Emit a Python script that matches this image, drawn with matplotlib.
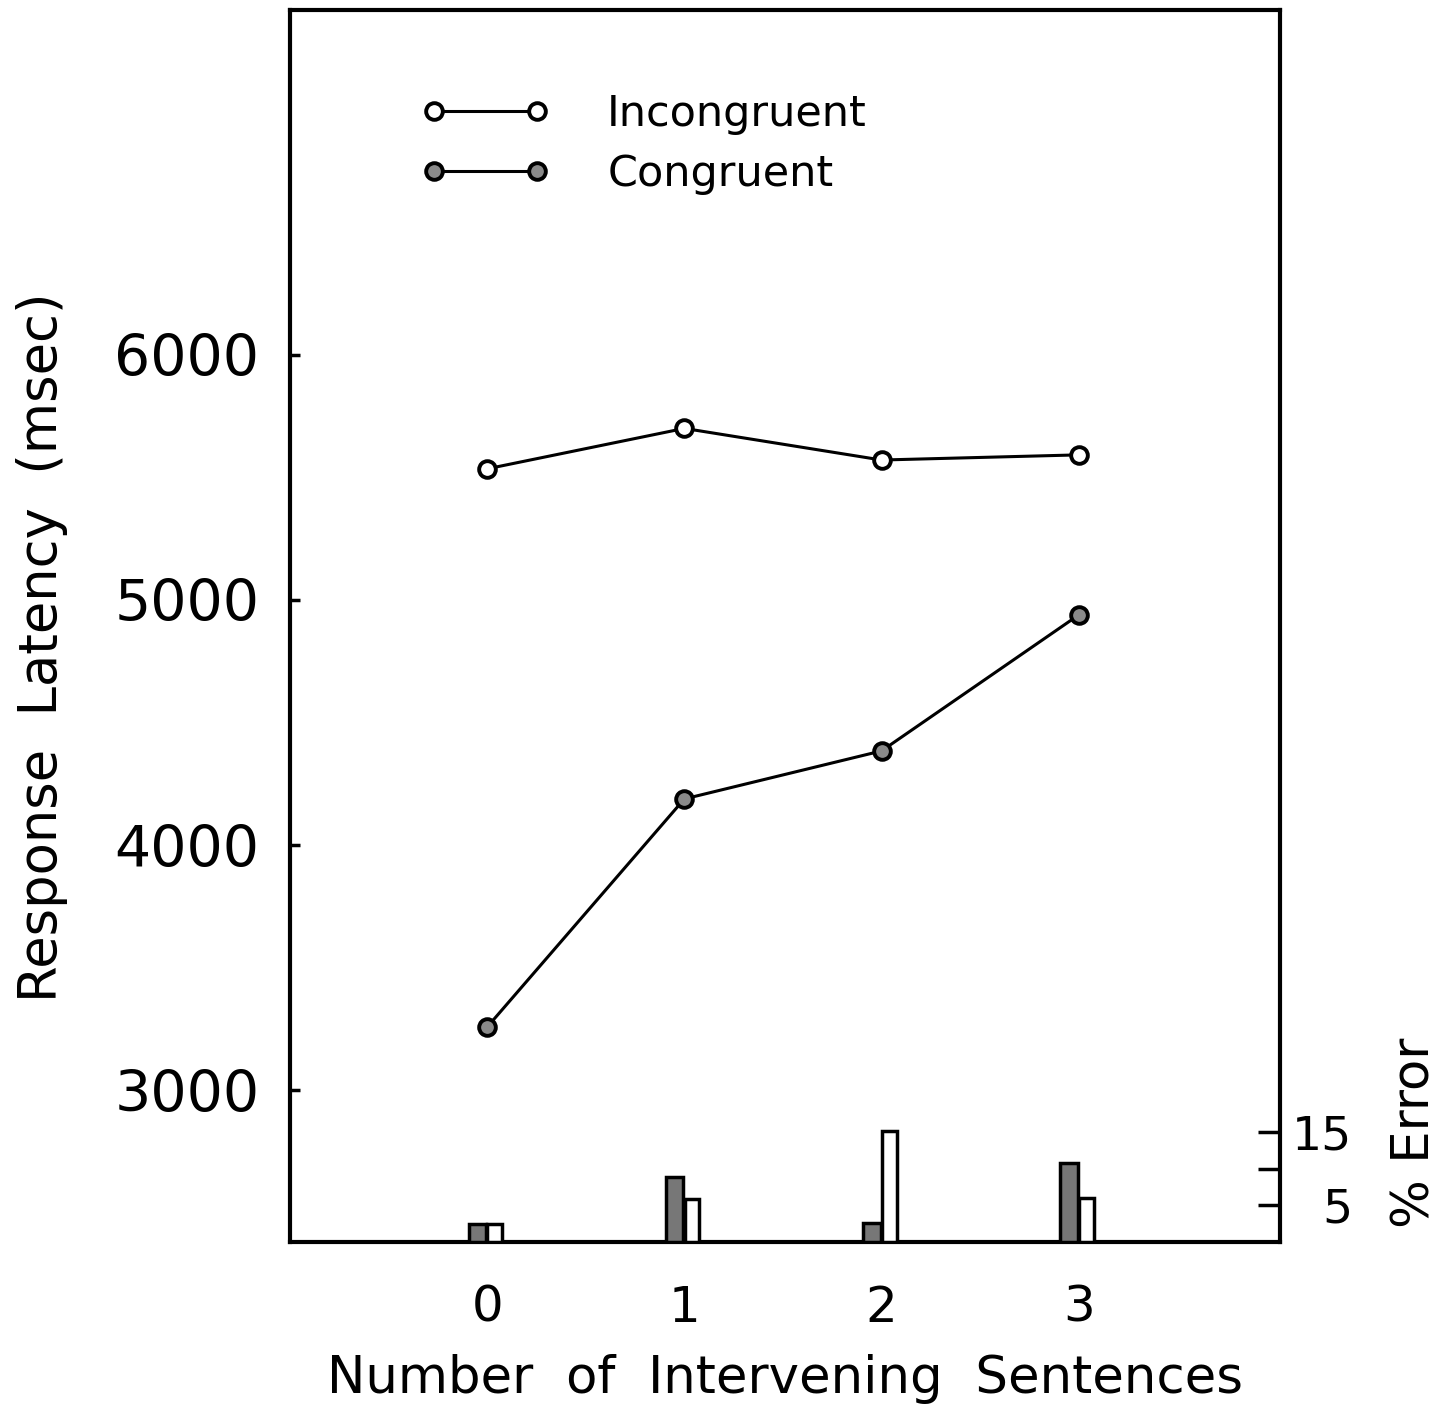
import matplotlib
matplotlib.use("Agg")
import matplotlib.pyplot as plt
import numpy as np

# ---- data ----
sentences = [0, 1, 2, 3]
x_tick_labels = ["0", "1", "2", "3"]
incongruent_ms = [5535, 5700, 5571, 5592]
congruent_ms = [3257, 4188, 4384, 4939]
congruent_err = [2.5, 8.8, 2.6, 10.8]
incongruent_err = [2.5, 5.8, 15.2, 6.0]
latency_ticks = [3000, 4000, 5000, 6000]
error_ticks = [5, 10, 15]
error_tick_labels = ["5", "", "15"]

plt.rcParams['font.family'] = ['DejaVu Sans']

fig = plt.figure(figsize=(14.41, 14.05), dpi=100)
ax = fig.add_axes([0.2012, 0.1160, 0.6870, 0.8770])

x = np.array(sentences, dtype=float)
ax.plot(x, incongruent_ms, color='black', lw=2.2, marker='o', ms=12,
        mfc='white', mec='black', mew=2.8, label='Incongruent', zorder=3)
ax.plot(x, congruent_ms, color='black', lw=2.2, marker='o', ms=12,
        mfc='#8a8a8a', mec='black', mew=2.8, label='Congruent', zorder=3)

ax.set_xlim(-1.0, 4.02)
ax.set_ylim(2380, 7408)
ax.set_xticks(x)
ax.set_xticklabels(x_tick_labels, fontsize=36)
ax.set_yticks(latency_ticks)
ax.set_yticklabels([str(v) for v in latency_ticks], fontsize=41)
ax.tick_params(axis='x', length=0, pad=30)
ax.tick_params(axis='y', direction='in', length=7, width=2.5, pad=22)
for s in ax.spines.values():
    s.set_linewidth(3.0)
ax.set_xlabel("Number  of  Intervening  Sentences", fontsize=37, labelpad=16)
ax.set_ylabel("Response  Latency  (msec)", fontsize=38)
ax.yaxis.set_label_coords(-0.224, 0.483)

leg = ax.legend(loc='upper left', bbox_to_anchor=(0.093, 0.964), frameon=False,
                numpoints=2, handlelength=3.0, handletextpad=1.33,
                labelspacing=0.42, fontsize=31)

ax2 = ax.twinx()
w = 0.088
ax2.bar(x - w / 2 - 0.005, congruent_err, width=w, color='#777777',
        edgecolor='black', linewidth=2.5)
ax2.bar(x + w / 2 - 0.005, incongruent_err, width=w * 0.85, color='white',
        edgecolor='black', linewidth=2.5)
ax2.set_ylim(0, 168)
ax2.set_yticks(error_ticks)
ax2.set_yticklabels(error_tick_labels, fontsize=34)
ax2.tick_params(axis='y', direction='in', length=16, width=2.5, pad=52)
for lab in ax2.get_yticklabels():
    lab.set_horizontalalignment('right')
for s in ax2.spines.values():
    s.set_visible(False)
ax2.set_ylabel("% Error", fontsize=37)
ax2.yaxis.set_label_coords(1.112, 0.089)

fig.savefig("out.png", dpi=100)
